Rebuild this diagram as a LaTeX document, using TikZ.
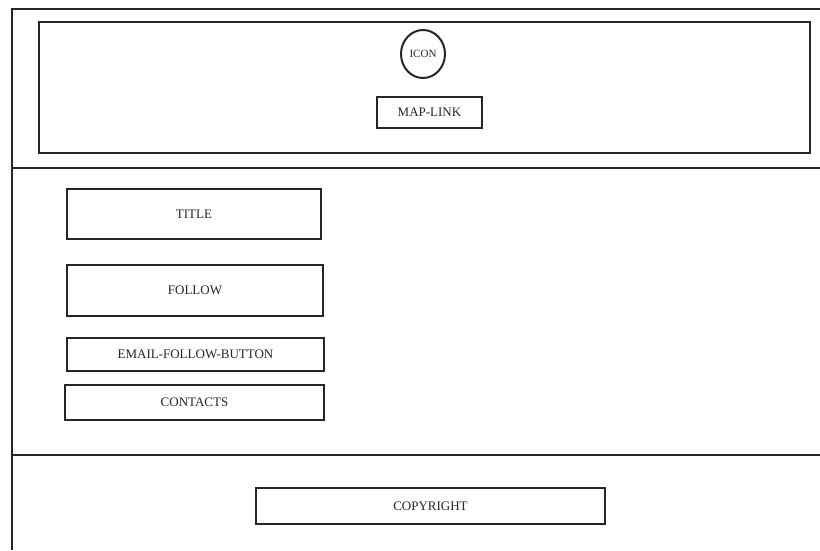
\documentclass[tikz,border=0pt]{standalone}
\usepackage{fontspec}
\setmainfont{Liberation Serif}
\usetikzlibrary{shapes.geometric}
\begin{document}
\begin{tikzpicture}[x=1pt,y=-1pt,
  frame/.style={line width=2pt,draw=black!85},
  boxnode/.style={frame,rectangle,inner sep=0pt,font=\fontsize{13}{15}\selectfont,text=black!85},
  iconnode/.style={frame,ellipse,inner sep=0pt,minimum width=44pt,minimum height=48pt,font=\fontsize{11}{13}\selectfont,text=black!85}]
\useasboundingbox (0,0) rectangle (820,550);
\fill[white] (0,0) rectangle (820,550);
% outer frame lines
\coordinate (tl) at (12,9);
\coordinate (tr) at (820,9);
\coordinate (bl) at (12,550);
\coordinate (l1) at (12,168);
\coordinate (r1) at (820,168);
\coordinate (l2) at (12,455);
\coordinate (r2) at (820,455);
\draw[frame] (tr) -- (tl) -- (bl);
\draw[frame] (l1) -- (r1);
\draw[frame] (l2) -- (r2);
% header box
\node[boxnode,minimum width=771pt,minimum height=131pt] (header) at (424.5,87.5) {};
\node[iconnode] (icon) at (423,54) {ICON};
\node[boxnode,minimum width=105pt,minimum height=31pt] (maplink) at (429.5,112.5) {MAP-LINK};
% body boxes
\node[boxnode,minimum width=254pt,minimum height=50pt] (title) at (194,214) {TITLE};
\node[boxnode,minimum width=256pt,minimum height=51pt] (follow) at (195,290.5) {FOLLOW};
\node[boxnode,minimum width=257pt,minimum height=33pt] (email) at (195.5,354.5) {EMAIL-FOLLOW-BUTTON};
\node[boxnode,minimum width=259pt,minimum height=35pt] (contacts) at (194.5,402.5) {CONTACTS};
% footer
\node[boxnode,minimum width=349pt,minimum height=36pt] (copyright) at (430.5,506) {COPYRIGHT};
\end{tikzpicture}
\end{document}
